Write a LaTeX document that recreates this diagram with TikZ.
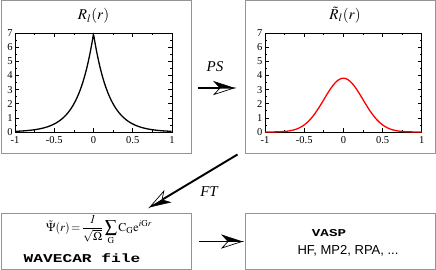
\documentclass[tikz,border=0pt]{standalone}
\usepackage{mathptmx}
\usepackage{fontspec}
\setmainfont{Liberation Serif}
\newfontfamily\arialf{Liberation Sans}
\newfontfamily\courf[FakeStretch=1.35]{Liberation Mono}
\usetikzlibrary{calc}
\tikzset{
  box/.style={draw=black!42, line width=0.9pt, anchor=north west, inner sep=0pt},
  frame/.style={line width=0.8pt},
  tk/.style={line width=0.7pt},
  ticklab/.style={font=\fontsize{10.5}{11}\selectfont, inner sep=0pt},
  shaft/.style={line width=1.9pt},
  headfill/.style={fill=black, draw=black, line width=0.5pt, line join=miter},
  headopen/.style={fill=white, draw=black, line width=0.7pt, line join=miter},
  lab/.style={font=\fontsize{15}{15}\selectfont\itshape, inner sep=0pt}
}
% half-filled arrow from #1 to #2
\newcommand{\halfarrow}[2]{%
  \coordinate (hC) at ($(#2)!20pt!(#1)$);
  \coordinate (hI) at ($(#2)!14pt!(#1)$);
  \coordinate (hL) at ($(hC)!6.5pt!90:(#2)$);
  \coordinate (hR) at ($(hC)!6.5pt!-90:(#2)$);
  \draw[shaft] (#1) -- (hI);
  \draw[headopen] (#2) -- (hR) -- (hI) -- cycle;
  \draw[headfill] (#2) -- (hL) -- (hI) -- cycle;
}
\newcommand{\myaxes}{%
  \draw[frame] (-1,0) rectangle (1,7);
  \foreach \t in {-1,-0.5,0,0.5,1} {
    \draw[tk] (\t,0) -- (\t,0.3);
    \draw[tk] (\t,7) -- (\t,6.7);
  }
  \foreach \t in {-0.75,-0.25,0.25,0.75} {
    \draw[tk] (\t,0) -- (\t,0.16);
    \draw[tk] (\t,7) -- (\t,6.84);
  }
  \foreach \v in {1,...,6} {
    \draw[tk] (-1,\v) -- (-0.95,\v);
    \draw[tk] (1,\v) -- (0.95,\v);
  }
  \foreach \v in {0.5,1.5,...,6.5} {
    \draw[tk] (-1,\v) -- (-0.975,\v);
    \draw[tk] (1,\v) -- (0.975,\v);
  }
  \foreach \v in {0,...,7} {
    \node[ticklab, anchor=east] at (-1.03,\v) {\v};
  }
  \foreach \t/\l in {-1/-1,-0.5/-0.5,0/0,0.5/0.5,1/1} {
    \node[ticklab, anchor=north] at (\t,-0.3) {\l};
  }
}
\begin{document}
\begin{tikzpicture}[x=1pt, y=-1pt]
\useasboundingbox (0,0) rectangle (436,270);
% boxes
\node[box, minimum width=190pt, minimum height=152.5pt] (b1) at (1,0.5) {};
\node[box, minimum width=190pt, minimum height=152.5pt] (b2) at (245,0.5) {};
\node[box, minimum width=190pt, minimum height=56pt] (b3) at (1,213) {};
\node[box, minimum width=190pt, minimum height=56pt] (b4) at (245,213) {};
% plot 1
\begin{scope}[shift={(93.5,132)}, xscale=78.4, yscale=-14.14]
  \myaxes
  \draw[line width=1.3pt] plot[domain=-1:1, samples=301, smooth] (\x, {6.95*exp(-5*abs(\x))});
\end{scope}
\node[font=\fontsize{15}{15}\selectfont, inner sep=0pt] (t1) at (93.5,16) {$R_{l}(r)$};
% plot 2
\begin{scope}[shift={(343.4,132)}, xscale=78.4, yscale=-14.14]
  \myaxes
  \draw[line width=1.3pt, red] plot[domain=-1:1, samples=201, smooth] (\x, {3.8*exp(-8.1*\x*\x)});
\end{scope}
\node[font=\fontsize{15}{15}\selectfont, inner sep=0pt] (t2) at (345,15) {$\tilde R_{l}(r)$};
% box 3 text
\node[font=\fontsize{12}{12}\selectfont, inner sep=0pt] (f) at (99,230) {$\displaystyle\tilde\Psi(r)\!=\!\frac{\mathit{1}}{\sqrt{\Omega}}\sum_{\mathrm{G}}\mathrm{C}_{\mathrm{G}}\mathrm{e}^{i\mathrm{G}r}$};
\node[font=\fontsize{12}{12}\selectfont\courf\bfseries, inner sep=0pt] (w) at (82,258) {WAVECAR file};
% box 4 text
\node[font=\fontsize{10.5}{11}\selectfont\courf\bfseries, inner sep=0pt] (v) at (329,233) {VASP};
\node[font=\fontsize{13}{13}\selectfont\arialf, inner sep=0pt] (h) at (348,251) {HF, MP2, RPA, ...};
% arrows
\coordinate (psA) at (198,88);
\coordinate (psB) at (234,88);
\halfarrow{psA}{psB}
\node[lab] (ps) at (215,67) {PS};
\coordinate (ftA) at (237.5,154.5);
\coordinate (ftB) at (150,207);
\halfarrow{ftA}{ftB}
\node[lab] (ft) at (209,192) {FT};
\coordinate (bA) at (199,241.5);
\coordinate (bB) at (242,241.5);
\halfarrow{bA}{bB}
\end{tikzpicture}
\end{document}
